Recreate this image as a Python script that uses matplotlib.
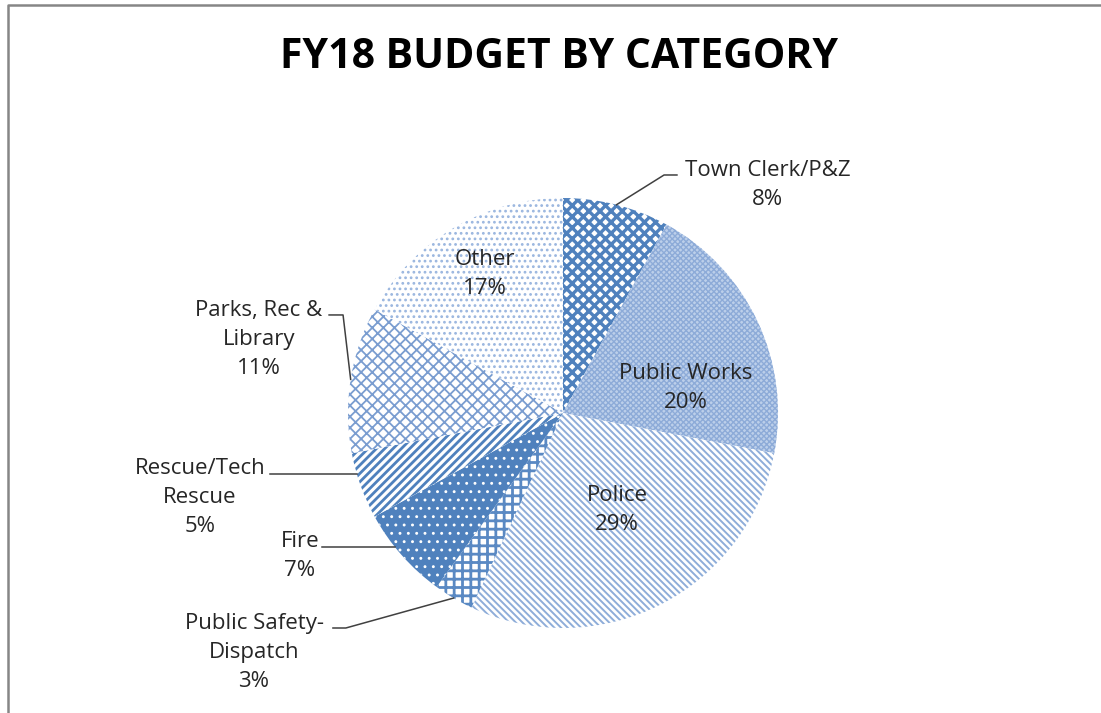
import matplotlib.pyplot as plt
import numpy as np

# budget shares (percent), clockwise from 12 o'clock
categories = ['Town Clerk/P&Z', 'Public Works', 'Police', 'Public Safety-\nDispatch',
              'Fire', 'Rescue/Tech\nRescue', 'Parks, Rec &\nLibrary', 'Other']
shares = [8, 20, 29, 3, 7, 5, 11, 17]

blue = '#4f81bd'
faces = ['white', '#bccfea', 'white', 'white', blue, 'white', 'white', 'white']
hatch_cols = [blue, '#8dabd8', '#8eadd9', '#5a89c3', 'white', blue, '#7a9dd0', '#9ab6df']
hatches = ['xxx', 'xxxxxx', '\\\\\\\\\\', '++', '..', '////', 'xxx', '...']
hatch_lw = [2.4, 1.0, 1.4, 2.0, 0.9, 2.0, 1.3, 1.2]

plt.rcParams['font.family'] = ['Open Sans', 'DejaVu Sans']
plt.rcParams['hatch.linewidth'] = 1.6

fig = plt.figure(figsize=(11.01, 7.13), dpi=100)
W, H = 1101, 713
cx, cy, r = 563, 413, 215   # pie centre / radius in pixels
ax = fig.add_axes([(cx - r) / W, (H - cy - r) / H, 2 * r / W, 2 * r / H])

wedges, _ = ax.pie(shares, startangle=90, counterclock=False, radius=1,
                   wedgeprops=dict(linewidth=0))
for w, fc, hc, h, hl in zip(wedges, faces, hatch_cols, hatches, hatch_lw):
    w.set_facecolor(fc)
    w.set_edgecolor(hc)
    w.set_hatch(h)
    w.set_linewidth(0)
    if hasattr(w, 'set_hatch_linewidth'):
        w.set_hatch_linewidth(hl)
ax.set_xlim(-1, 1)
ax.set_ylim(-1, 1)
ax.set_aspect('equal')
ax.axis('off')

def rim(i):
    a = np.deg2rad((wedges[i].theta1 + wedges[i].theta2) / 2)
    return np.cos(a), np.sin(a)

fs = 16
lab = [f'{c}\n{s}%' for c, s in zip(categories, shares)]
kw = dict(ha='center', va='center', fontsize=fs, color='#262626', linespacing=1.5)
# inside labels
ax.text(0.572, 0.116, lab[1], **kw)
ax.text(0.251, -0.451, lab[2], **kw)
ax.text(-0.363, 0.647, lab[7], **kw)
# outside labels
ax.text(0.953, 1.060, lab[0], clip_on=False, **kw)
ax.text(-1.437, -1.116, lab[3], clip_on=False, **kw)
ax.text(-1.223, -0.665, lab[4], clip_on=False, **kw)
ax.text(-1.688, -0.395, lab[5], clip_on=False, **kw)
ax.text(-1.414, 0.344, lab[6], clip_on=False, **kw)

lk = dict(color='#404040', lw=1.1, clip_on=False)
x0, y0 = rim(0)
ax.plot([x0, 0.470, 0.530], [y0, 1.107, 1.107], **lk)
x0, y0 = rim(3)
ax.plot([-1.070, -1.010, x0], [-1.0, -1.0, y0], **lk)
ax.plot([-1.121, -np.sqrt(1 - 0.623**2)], [-0.623, -0.623], **lk)
ax.plot([-1.363, -np.sqrt(1 - 0.284**2)], [-0.284, -0.284], **lk)
x0, y0 = rim(6)
ax.plot([-1.088, -1.023, x0], [0.456, 0.456, y0], **lk)

fig.text(559 / W, 1 - 57 / H, 'FY18 BUDGET BY CATEGORY', ha='center', va='center',
         fontsize=29.5, fontweight='bold', color='black')

# chart frame
fig.add_artist(plt.Line2D([8 / W, 8 / W, 1], [0, 1 - 5 / H, 1 - 5 / H],
                          transform=fig.transFigure, color='#868686', lw=1.8))

fig.savefig('out.png', dpi=100)
